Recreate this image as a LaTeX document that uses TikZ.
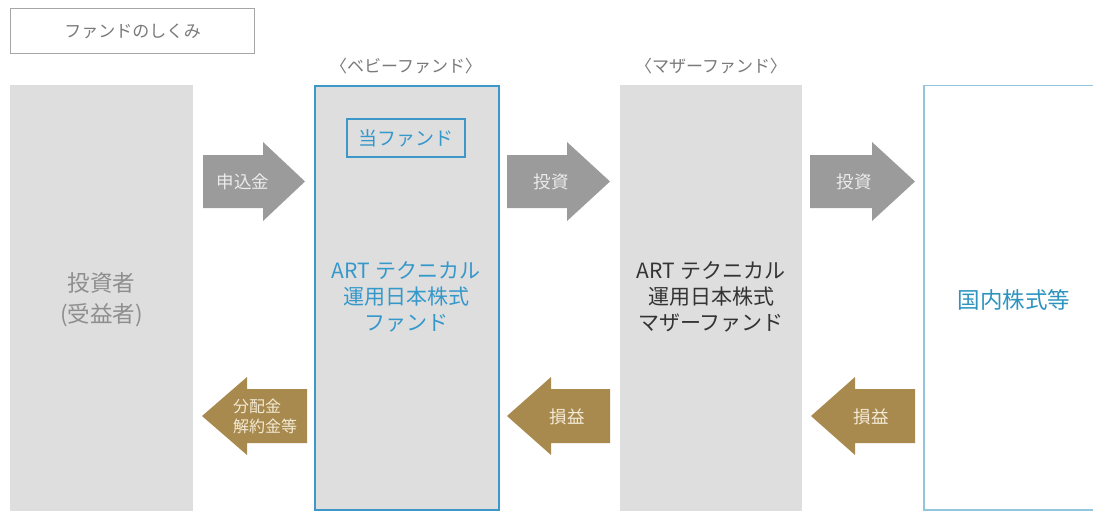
\documentclass[tikz,border=0pt]{standalone}
\usepackage{fontspec}
\setmainfont{Noto Sans CJK JP}
\definecolor{boxgray}{HTML}{DEDEDE}
\definecolor{arrgray}{HTML}{9B9B9B}
\definecolor{arrbrown}{HTML}{A88A4E}
\definecolor{fundblue}{HTML}{3D97C8}
\definecolor{lightblue}{HTML}{93C6DC}
\definecolor{txtblue}{HTML}{3598CB}
\definecolor{labgray}{HTML}{7A7A7A}
\definecolor{invgray}{HTML}{8E8E8E}
\definecolor{cream}{HTML}{F3EAD6}
\begin{document}
\begin{tikzpicture}[x=1pt,y=-1pt,
  colbox/.style={fill=boxgray,draw=none,anchor=north west,inner sep=0pt},
  bigtxt/.style={font=\fontsize{21}{26}\selectfont,align=center},
  toplabel/.style={font=\fontsize{17}{19}\selectfont,text=labgray,inner sep=0pt},
  arrtxt/.style={font=\fontsize{17.5}{19}\selectfont,inner sep=0pt},
]
\useasboundingbox (0,0) rectangle (1093,511);
\fill[white] (0,0) rectangle (1093,511);

% title
\node[draw=black!35,line width=1.3pt,minimum width=244pt,minimum height=45pt,anchor=north west,inner sep=0pt,
      font=\fontsize{17}{19}\selectfont,text=labgray] (title) at (10,8) {ファンドのしくみ};

% columns
\node[colbox,minimum width=183pt,minimum height=430pt] (inv) at (10,85) {};
\node[colbox,minimum width=184pt,minimum height=424pt,draw=fundblue,line width=2.2pt] (baby) at (314,85) {};
\node[colbox,minimum width=182pt,minimum height=430pt] (mother) at (620,85) {};
\node[anchor=north west,inner sep=0pt,fill=white,draw=lightblue,line width=1.5pt,minimum width=190pt,minimum height=424pt] (stock) at (923,85) {};

% column texts
\node[bigtxt,font=\fontsize{22.5}{31}\selectfont,text=invgray] (invt) at (101.5,299.5) {投資者\\(受益者)};
\node[bigtxt,text=txtblue] (babyt) at (406,297) {ART テクニカル\\運用日本株式\\ファンド};
\node[bigtxt,text=black!80] (mothert) at (711,297) {ART テクニカル\\運用日本株式\\マザーファンド};
\node[font=\fontsize{22.5}{26}\selectfont,text=txtblue!85!teal] (stockt) at (1014,300) {国内株式等};

% inner label
\node[draw=fundblue,line width=2pt,minimum width=118pt,minimum height=38pt,inner sep=0pt,
      font=\fontsize{19}{22}\selectfont,text=txtblue] (this) at (406,138) {当ファンド};

% top labels
\node[toplabel] (babyl) at (406,66) {〈ベビーファンド〉};
\node[toplabel] (motherl) at (711,66) {〈マザーファンド〉};

% right-pointing arrows (gray)
\fill[arrgray] (203,155) -- (263,155) -- (263,142) -- (305,181.5) -- (263,221) -- (263,208) -- (203,208) -- cycle;
\fill[arrgray] (507,155) -- (567,155) -- (567,142) -- (610,181.5) -- (567,221) -- (567,208) -- (507,208) -- cycle;
\fill[arrgray] (810,155) -- (872,155) -- (872,142) -- (915,181.5) -- (872,221) -- (872,208) -- (810,208) -- cycle;
\node[arrtxt,text=white!92!black] (a1) at (243,182) {申込金};
\node[arrtxt,text=white!92!black] (a2) at (551,182) {投資};
\node[arrtxt,text=white!92!black] (a3) at (854,182) {投資};

% left-pointing arrows (brown)
\fill[arrbrown] (307,389) -- (247,389) -- (247,377) -- (202,416) -- (247,455) -- (247,443) -- (307,443) -- cycle;
\fill[arrbrown] (610,389) -- (551,389) -- (551,377) -- (507,416) -- (551,455) -- (551,443) -- (610,443) -- cycle;
\fill[arrbrown] (915,389) -- (855,389) -- (855,377) -- (811,416) -- (855,455) -- (855,443) -- (915,443) -- cycle;
\node[arrtxt,text=cream,align=left,font=\fontsize{16}{20}\selectfont] (b1) at (265,416) {分配金\\解約金等};
\node[arrtxt,text=cream] (b2) at (567,417) {損益};
\node[arrtxt,text=cream] (b3) at (871,417) {損益};
\end{tikzpicture}
\end{document}
